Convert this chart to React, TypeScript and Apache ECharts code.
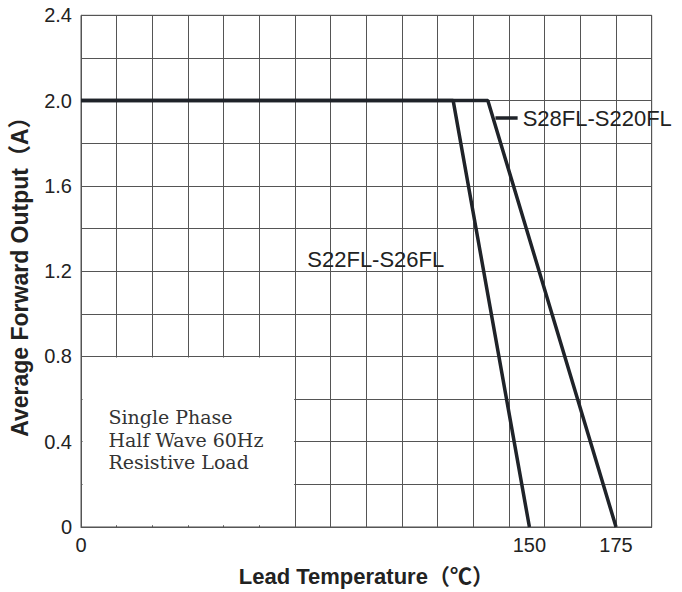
import React, { useEffect, useRef } from "react";
import * as echarts from "echarts";

// x axis: broken axis — origin labelled "0", grid step of 175/17 degC
const X_STEP = 175 / 17;
const X_MIN = 2 * X_STEP;
const X_MAX = 18 * X_STEP;

const tempS22 = [X_MIN, 128, 150];
const ampS22 = [2.0, 2.0, 0];
const tempS28 = [X_MIN, 138, 175];
const ampS28 = [2.0, 2.0, 0];

const xTickValues = [X_MIN, 150, 175];
const xTickLabels = ["0", "150", "175"];
const yTickValues = [0, 0.4, 0.8, 1.2, 1.6, 2.0, 2.4];
const yTickLabels = ["0", "0.4", "0.8", "1.2", "1.6", "2.0", "2.4"];

const seriesNames = ["S22FL-S26FL", "S28FL-S220FL"];
const noteLines = ["Single Phase", "Half Wave 60Hz", "Resistive Load"];

const s22LabelAnchor = [85.9, 1.256];
const s28LeaderX = [140.2, 146.6];
const s28LeaderY = 1.918;
const noteAnchor = [28.5, 0.514];

const FONT = "'Liberation Sans', Arial, 'Noto Sans CJK SC', sans-serif";
const LINE = "#1f2329";
const GRID = "#555";
const TXT = "#222";

function lookup(values: number[], labels: string[], v: number) {
  let best = 0;
  for (let i = 1; i < values.length; i++) {
    if (Math.abs(values[i] - v) < Math.abs(values[best] - v)) best = i;
  }
  return Math.abs(values[best] - v) < 1e-6 ? labels[best] : "";
}

export default function App() {
  const ref = useRef<HTMLDivElement>(null);
  useEffect(() => {
    if (!ref.current) return;
    const chart = echarts.init(ref.current, null, { renderer: "svg" });
    const option: any = {
      animation: false,
      backgroundColor: "#fff",
      textStyle: { fontFamily: FONT },
      grid: {
        left: 80.7,
        right: 30.3,
        top: 15.3,
        bottom: 63,
        show: true,
        borderColor: GRID,
        borderWidth: 1,
        backgroundColor: "transparent",
      },
      xAxis: {
        type: "value",
        min: X_MIN,
        max: X_MAX,
        interval: X_STEP,
        name: "Lead Temperature（℃）",
        nameLocation: "middle",
        nameGap: 38,
        nameTextStyle: { fontSize: 22, fontWeight: "bold", color: TXT, fontFamily: FONT },
        axisLine: { show: true, lineStyle: { color: GRID, width: 1 } },
        axisTick: { show: false },
        splitLine: { show: true, lineStyle: { color: GRID, width: 1 } },
        axisLabel: {
          customValues: xTickValues,
          formatter: (v: number) => lookup(xTickValues, xTickLabels, v),
          fontSize: 20,
          color: TXT,
          margin: 8,
          fontFamily: FONT,
        },
      },
      yAxis: {
        type: "value",
        min: 0,
        max: 2.4,
        interval: 0.2,
        name: "Average Forward Output（A）",
        nameLocation: "middle",
        nameGap: 50,
        nameTextStyle: { fontSize: 23, fontWeight: "bold", color: TXT, fontFamily: FONT },
        axisLine: { show: true, lineStyle: { color: GRID, width: 1 } },
        axisTick: { show: false },
        splitLine: { show: true, lineStyle: { color: GRID, width: 1 } },
        axisLabel: {
          customValues: yTickValues,
          formatter: (v: number) => lookup(yTickValues, yTickLabels, v),
          fontSize: 20,
          color: TXT,
          margin: 9,
          fontFamily: FONT,
        },
      },
      series: [
        {
          name: seriesNames[0],
          type: "line",
          data: tempS22.map((t, i) => [t, ampS22[i]]),
          symbol: "none",
          lineStyle: { color: LINE, width: 3.5 },
          z: 5,
          markArea: {
            silent: true,
            itemStyle: { color: "#fff", borderWidth: 0 },
            data: [[{ coord: [X_MIN + 0.45, 0.008] }, { coord: [8 * X_STEP - 0.25, 0.795] }]],
          },
        },
        {
          name: seriesNames[1],
          type: "line",
          data: tempS28.map((t, i) => [t, ampS28[i]]),
          symbol: "none",
          lineStyle: { color: LINE, width: 3.5 },
          z: 5,
          markLine: {
            silent: true,
            symbol: ["none", "none"],
            lineStyle: { color: LINE, width: 3.5, type: "solid" },
            label: {
              show: true,
              position: "end",
              distance: 5,
              formatter: seriesNames[1],
              fontSize: 22,
              color: TXT,
              fontFamily: FONT,
            },
            data: [[{ coord: [s28LeaderX[0], s28LeaderY] }, { coord: [s28LeaderX[1], s28LeaderY] }]],
          },
        },
      ],
    };
    chart.setOption(option);

    const p22 = chart.convertToPixel({ gridIndex: 0 }, s22LabelAnchor) as number[];
    const pn = chart.convertToPixel({ gridIndex: 0 }, noteAnchor) as number[];
    const graphic: any[] = [
      {
        type: "text",
        x: p22[0],
        y: p22[1],
        z: 10,
        style: {
          text: seriesNames[0],
          fontSize: 22,
          fontFamily: FONT,
          fill: TXT,
          align: "left",
          verticalAlign: "middle",
        },
      },
      ...noteLines.map((t, i) => ({
        type: "text",
        x: pn[0],
        y: pn[1] + i * 22.5,
        z: 10,
        style: {
          text: t,
          fontSize: 19,
          fontFamily: "'DejaVu Serif', serif",
          fill: "#333",
          align: "left",
          verticalAlign: "middle",
        },
      })),
    ];
    chart.setOption({ graphic });

    return () => chart.dispose();
  }, []);
  return (
    <div
      ref={ref}
      style={{ position: "fixed", left: 0, top: 0, width: 682, height: 592 }}
    />
  );
}
